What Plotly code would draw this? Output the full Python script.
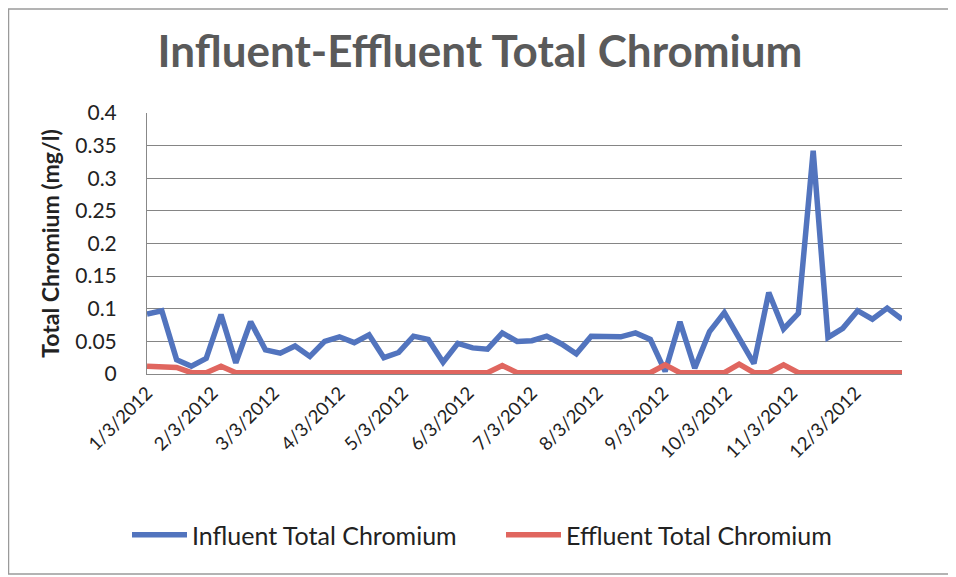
import plotly.graph_objects as go

dates = [
    "2012-01-03", "2012-01-10", "2012-01-17", "2012-01-24", "2012-01-31",
    "2012-02-07", "2012-02-14", "2012-02-21", "2012-02-28",
    "2012-03-06", "2012-03-13", "2012-03-20", "2012-03-27",
    "2012-04-03", "2012-04-10", "2012-04-17", "2012-04-24",
    "2012-05-01", "2012-05-08", "2012-05-15", "2012-05-22", "2012-05-29",
    "2012-06-05", "2012-06-12", "2012-06-19", "2012-06-26",
    "2012-07-03", "2012-07-10", "2012-07-17", "2012-07-24", "2012-07-31",
    "2012-08-07", "2012-08-14", "2012-08-21", "2012-08-28",
    "2012-09-04", "2012-09-11", "2012-09-18", "2012-09-25",
    "2012-10-02", "2012-10-09", "2012-10-16", "2012-10-23", "2012-10-30",
    "2012-11-06", "2012-11-13", "2012-11-20", "2012-11-27",
    "2012-12-04", "2012-12-11", "2012-12-18", "2012-12-25",
]

influent = [
    0.092, 0.097, 0.022, 0.012, 0.024,
    0.091, 0.017, 0.080, 0.037,
    0.032, 0.043, 0.027, 0.050,
    0.057, 0.048, 0.060, 0.025,
    0.033, 0.058, 0.053, 0.018, 0.047,
    0.040, 0.038, 0.063, 0.050,
    0.051, 0.058, 0.046, 0.031, 0.058,
    0.057, 0.057, 0.063, 0.053,
    0.004, 0.080, 0.009, 0.065,
    0.094, 0.055, 0.016, 0.125, 0.069,
    0.093, 0.342, 0.056, 0.070,
    0.097, 0.084, 0.101, 0.084,
]

effluent = [
    0.012, 0.011, 0.010, 0.002, 0.002,
    0.012, 0.002, 0.002, 0.002,
    0.002, 0.002, 0.002, 0.002,
    0.002, 0.002, 0.002, 0.002,
    0.002, 0.002, 0.002, 0.002, 0.002,
    0.002, 0.002, 0.013, 0.002,
    0.002, 0.002, 0.002, 0.002, 0.002,
    0.002, 0.002, 0.002, 0.002,
    0.014, 0.002, 0.002, 0.002,
    0.002, 0.015, 0.002, 0.002, 0.014,
    0.002, 0.002, 0.002, 0.002,
    0.002, 0.002, 0.002, 0.002,
]

tick_dates = [
    "2012-01-03", "2012-02-03", "2012-03-03", "2012-04-03", "2012-05-03",
    "2012-06-03", "2012-07-03", "2012-08-03", "2012-09-03", "2012-10-03",
    "2012-11-03", "2012-12-03",
]
tick_labels = [
    "1/3/2012", "2/3/2012", "3/3/2012", "4/3/2012", "5/3/2012", "6/3/2012",
    "7/3/2012", "8/3/2012", "9/3/2012", "10/3/2012", "11/3/2012", "12/3/2012",
]

y_ticks = [0, 0.05, 0.1, 0.15, 0.2, 0.25, 0.3, 0.35, 0.4]
y_labels = ["0", "0.05", "0.1", "0.15", "0.2", "0.25", "0.3", "0.35", "0.4"]

FONT = "Lato"

fig = go.Figure()
fig.add_trace(go.Scatter(
    x=dates, y=influent, mode="lines", name="Influent Total Chromium",
    line=dict(color="#5274BE", width=5.5),
))
fig.add_trace(go.Scatter(
    x=dates, y=effluent, mode="lines", name="Effluent Total Chromium",
    line=dict(color="#E0665F", width=5.5),
))

OFF = 8  # page body margin
W, H = 956 - OFF, 577 - OFF
L, R, T, B = 147 - OFF, 54, 113 - OFF, 203
pw = W - L - R
ph = H - T - B

def px_x(x):
    return (x - OFF - L) / pw

def px_y(y):
    return (374 - y) / ph

fig.update_layout(
    width=W, height=H,
    margin=dict(l=L, r=R, t=T, b=B),
    paper_bgcolor="white", plot_bgcolor="white",
    font=dict(family=FONT, color="#222222"),
    title=dict(
        text="<b>Influent-Effluent Total Chromium</b>",
        font=dict(family=FONT, size=44, color="#5a5a5a"),
        x=px_x(480), xanchor="center", xref="paper",
        y=1 - (52 - OFF) / H, yanchor="middle", yref="container",
    ),
    xaxis=dict(
        type="date",
        range=["2012-01-03", "2012-12-25"],
        tickvals=tick_dates, ticktext=tick_labels,
        tickangle=-45,
        tickfont=dict(family=FONT, size=18.5, color="#222222"),
        showgrid=False, zeroline=False,
        showline=True, linecolor="#888888", linewidth=1,
    ),
    yaxis=dict(
        range=[0, 0.4],
        tickvals=y_ticks, ticktext=y_labels,
        tickfont=dict(family=FONT, size=21, color="#222222"),
        ticklabelstandoff=25,
        showgrid=True, gridcolor="#858585", gridwidth=1,
        zeroline=False,
        showline=True, linecolor="#888888", linewidth=1,
        title=dict(text="<b>Total Chromium (mg/l)</b>",
                   font=dict(family=FONT, size=23, color="#222222"),
                   standoff=9),
    ),
    legend=dict(
        orientation="h",
        x=px_x(127), xanchor="left",
        y=px_y(535), yanchor="middle",
        font=dict(family=FONT, size=25, color="#222222"),
        itemwidth=55,
        entrywidth=304,
        bgcolor="rgba(0,0,0,0)",
    ),
    shapes=[dict(
        type="rect", xref="paper", yref="paper",
        x0=(0.5 - L) / pw, x1=(951 - OFF - L) / pw,
        y0=px_y(574), y1=px_y(1 + OFF),
        line=dict(color="#9a9a9a", width=1.5),
        fillcolor="rgba(0,0,0,0)", layer="below",
    )],
)

fig.write_html("out.html")
